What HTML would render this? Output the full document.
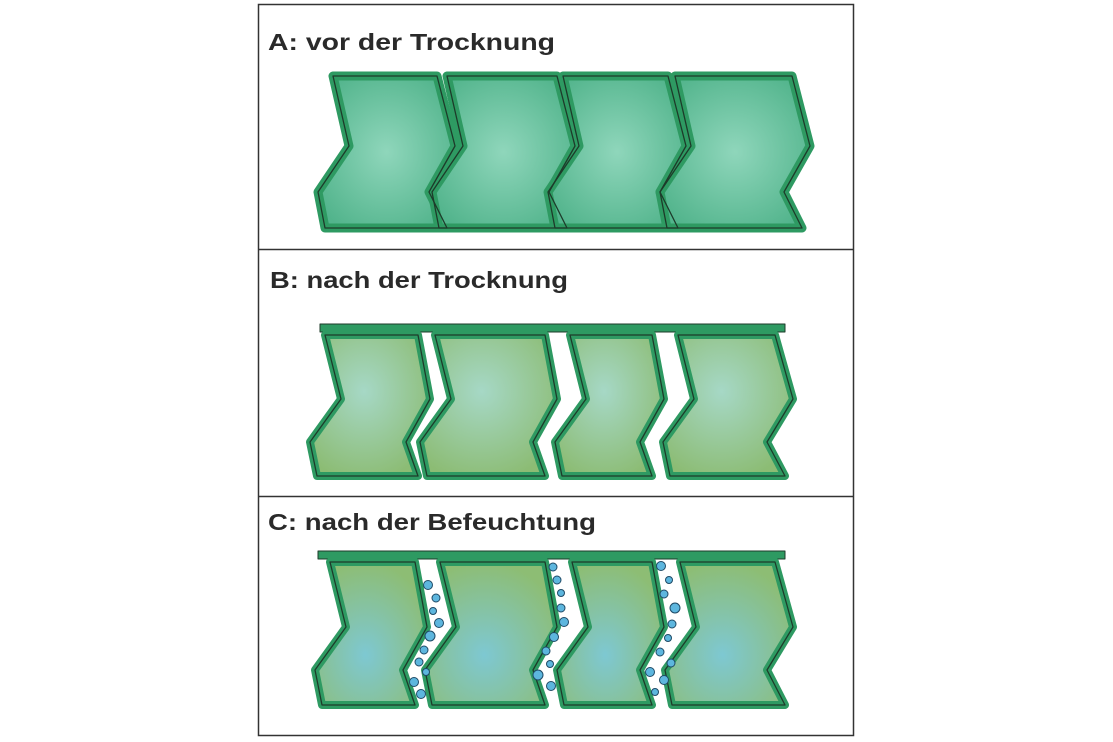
<!DOCTYPE html>
<html><head><meta charset="utf-8"><style>
html,body{margin:0;padding:0;background:#fff;}
svg{display:block;}
text{font-family:"Liberation Sans",sans-serif;font-weight:bold;fill:#2a2a2a;}
</style></head><body>
<svg width="1113" height="742" viewBox="0 0 1113 742" xmlns="http://www.w3.org/2000/svg">
<defs>
<radialGradient id="gA" cx="0.5" cy="0.5" r="0.6">
<stop offset="0" stop-color="#8fd6bb"/><stop offset="1" stop-color="#52b48c"/></radialGradient>
<radialGradient id="gB" cx="0.45" cy="0.4" r="0.65">
<stop offset="0" stop-color="#a6d8c6"/><stop offset="1" stop-color="#8cbc74"/></radialGradient>
<radialGradient id="gC" cx="0.45" cy="0.65" r="0.65">
<stop offset="0" stop-color="#7ec8d2"/><stop offset="1" stop-color="#8dbd74"/></radialGradient>
</defs>
<rect x="258.5" y="4.5" width="595" height="731" fill="#fff" stroke="#333" stroke-width="1.5"/>
<line x1="258" y1="249.5" x2="854" y2="249.5" stroke="#333" stroke-width="1.5"/>
<line x1="258" y1="496.5" x2="854" y2="496.5" stroke="#333" stroke-width="1.5"/>
<text x="268" y="50" font-size="23" textLength="287" lengthAdjust="spacingAndGlyphs">A: vor der Trocknung</text>
<text x="270" y="288" font-size="23" textLength="298" lengthAdjust="spacingAndGlyphs">B: nach der Trocknung</text>
<text x="268" y="530" font-size="23" textLength="328" lengthAdjust="spacingAndGlyphs">C: nach der Befeuchtung</text>

<g stroke-linejoin="round">
<g fill="url(#gA)" stroke="#2e9a62" stroke-width="9">
<polygon points="333,76 437,76 455,146 429,192 447,228 325,228 318,192 349,146"/>
<polygon points="447,76 557,76 575,146 549,192 567,228 439,228 432,192 463,146"/>
<polygon points="563,76 668,76 686,146 660,192 678,228 555,228 548,192 579,146"/>
<polygon points="675,76 792,76 810,146 784,192 802,228 667,228 660,192 691,146"/>
</g>
<g fill="none" stroke="#1d3b2a" stroke-width="1.3">
<polygon points="333,76 437,76 455,146 429,192 447,228 325,228 318,192 349,146"/>
<polygon points="447,76 557,76 575,146 549,192 567,228 439,228 432,192 463,146"/>
<polygon points="563,76 668,76 686,146 660,192 678,228 555,228 548,192 579,146"/>
<polygon points="675,76 792,76 810,146 784,192 802,228 667,228 660,192 691,146"/>
</g>

<rect x="320" y="324" width="465" height="8" fill="#2e9a62" stroke="#1d3b2a" stroke-width="1"/>
<g fill="url(#gB)" stroke="#2e9a62" stroke-width="8">
<polygon points="325,335 418,335 430,399 406,442 418,476 317,476 310,442 341,399"/>
<polygon points="435,335 545,335 557,399 533,442 545,476 427,476 420,442 451,399"/>
<polygon points="570,335 652,335 664,399 640,442 652,476 562,476 555,442 586,399"/>
<polygon points="678,335 775,335 793,399 767,442 785,476 670,476 663,442 694,399"/>
</g>
<g fill="none" stroke="#1d3b2a" stroke-width="1.3">
<polygon points="325,335 418,335 430,399 406,442 418,476 317,476 310,442 341,399"/>
<polygon points="435,335 545,335 557,399 533,442 545,476 427,476 420,442 451,399"/>
<polygon points="570,335 652,335 664,399 640,442 652,476 562,476 555,442 586,399"/>
<polygon points="678,335 775,335 793,399 767,442 785,476 670,476 663,442 694,399"/>
</g>

<rect x="318" y="551" width="467" height="8" fill="#2e9a62" stroke="#1d3b2a" stroke-width="1"/>
<g fill="url(#gC)" stroke="#2e9a62" stroke-width="8">
<polygon points="330,562 415,562 427,627 403,670 415,705 322,705 315,670 346,627"/>
<polygon points="440,562 545,562 557,627 533,670 545,705 432,705 425,670 456,627"/>
<polygon points="572,562 652,562 664,627 640,670 652,705 564,705 557,670 588,627"/>
<polygon points="680,562 775,562 793,627 767,670 785,705 672,705 665,670 696,627"/>
</g>
<g fill="none" stroke="#1d3b2a" stroke-width="1.3">
<polygon points="330,562 415,562 427,627 403,670 415,705 322,705 315,670 346,627"/>
<polygon points="440,562 545,562 557,627 533,670 545,705 432,705 425,670 456,627"/>
<polygon points="572,562 652,562 664,627 640,670 652,705 564,705 557,670 588,627"/>
<polygon points="680,562 775,562 793,627 767,670 785,705 672,705 665,670 696,627"/>
</g>
<g fill="#5db6de" stroke="#1f4a66" stroke-width="1">
<circle cx="428" cy="585" r="4.5"/><circle cx="436" cy="598" r="4"/><circle cx="433" cy="611" r="3.5"/><circle cx="439" cy="623" r="4.5"/><circle cx="430" cy="636" r="5"/><circle cx="424" cy="650" r="4"/><circle cx="419" cy="662" r="4"/><circle cx="426" cy="672" r="3.5"/><circle cx="414" cy="682" r="4.5"/><circle cx="421" cy="694" r="4.5"/>
<circle cx="553" cy="567" r="4"/><circle cx="557" cy="580" r="4"/><circle cx="561" cy="593" r="3.5"/><circle cx="561" cy="608" r="4"/><circle cx="564" cy="622" r="4.5"/><circle cx="554" cy="637" r="4.5"/><circle cx="546" cy="651" r="4"/><circle cx="550" cy="664" r="3.5"/><circle cx="538" cy="675" r="5"/><circle cx="551" cy="686" r="4.5"/>
<circle cx="661" cy="566" r="4.5"/><circle cx="669" cy="580" r="3.5"/><circle cx="664" cy="594" r="4"/><circle cx="675" cy="608" r="5"/><circle cx="672" cy="624" r="4"/><circle cx="668" cy="638" r="3.5"/><circle cx="660" cy="652" r="4"/><circle cx="671" cy="663" r="4"/><circle cx="650" cy="672" r="4.5"/><circle cx="664" cy="680" r="4.5"/><circle cx="655" cy="692" r="3.5"/>
</g>
</g>
</svg>
</body></html>
